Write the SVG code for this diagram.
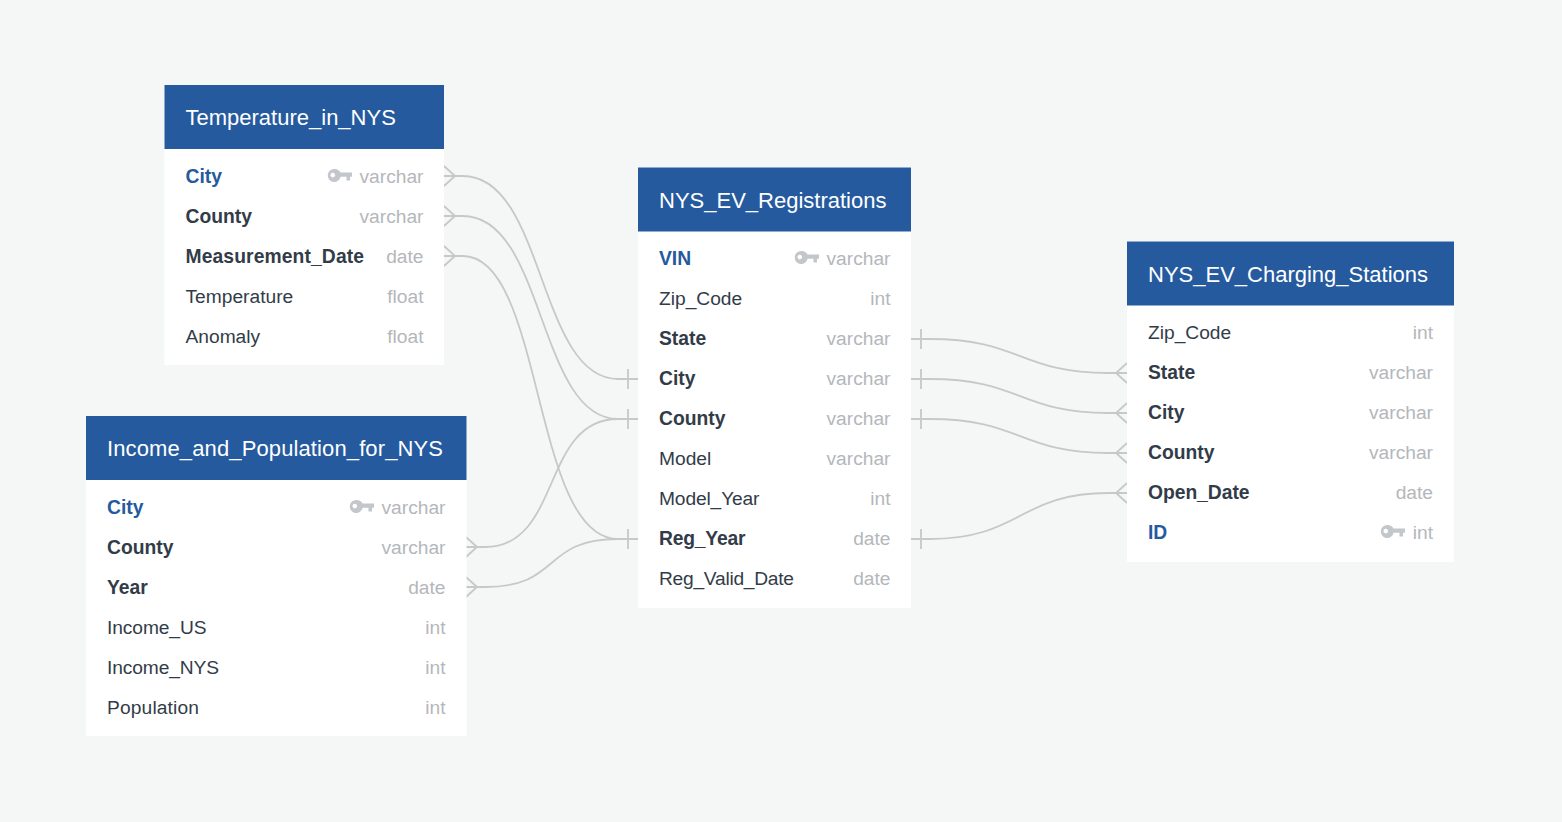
<svg xmlns="http://www.w3.org/2000/svg" width="1562" height="822" viewBox="0 0 1562 822">
<style>
text{font-family:"Liberation Sans",Arial,sans-serif;font-size:19.2px;fill:#323c48}
.h{font-size:22px;fill:#fff}
.b{font-weight:700;font-size:19.3px}
.k{font-weight:700;font-size:19.3px;fill:#255a9e}
.t{fill:#b4b7bb;text-anchor:end}
.hd{fill:#255a9e}
.bd{fill:#fff}
.ln{fill:none;stroke:#c6c8c9;stroke-width:1.8}
</style>
<defs>
<path id="key" fill="#c3c6ca" fill-rule="evenodd" d="M6.500 0a6.500 6.500 0 0 1 6 3.500H24V7.800H22V11.500H18.500V7.800H12.600A6.500 6.500 0 1 1 6.500 0ZM4.800 3.800a2.300 2.300 0 1 0 .01 0Z"/>
<path id="cf" class="ln" d="M0 -10L11 0L0 10M0 0H11"/>
<path id="cfr" class="ln" d="M0 -10L-11 0L0 10M0 0H-11"/>
</defs>
<rect width="1562" height="822" fill="#f5f7f7"/>
<g id="c">
<path class="ln" d="M444 176H463C545 176 538 379 618 379H638M628 369V389"/>
<path class="ln" d="M444 216H463C545 216 538 419 618 419H638M628 409V429"/>
<path class="ln" d="M444 256H463C544 256 532 539 618 539H638M628 529V549"/>
<path class="ln" d="M466 547H485C562 547 541 419 618 419H638"/>
<path class="ln" d="M466 587H485C562 587 541 539 618 539H638"/>
<path class="ln" d="M911 339H930C1020 339 1020 373 1108 373H1127M921 329V349"/>
<path class="ln" d="M911 379H930C1020 379 1020 413 1108 413H1127M921 369V389"/>
<path class="ln" d="M911 419H930C1020 419 1020 453 1108 453H1127M921 409V429"/>
<path class="ln" d="M911 539H930C1020 539 1020 493 1108 493H1127M921 529V549"/>
<use href="#cf" x="444" y="176"/><use href="#cf" x="444" y="216"/><use href="#cf" x="444" y="256"/>
<use href="#cf" x="466" y="547"/><use href="#cf" x="466" y="587"/>
<use href="#cfr" x="1127" y="373"/><use href="#cfr" x="1127" y="413"/><use href="#cfr" x="1127" y="453"/><use href="#cfr" x="1127" y="493"/>
</g>
<g id="temperature">
<rect class="bd" x="164.500" y="85" width="279.500" height="280"/><rect class="hd" x="164.500" y="85" width="279.500" height="64"/>
<text class="h" x="185.500" y="125">Temperature_in_NYS</text>
<text class="k" x="185.500" y="183">City</text><use href="#key" x="328" y="169"/><text class="t" x="423.500" y="183">varchar</text>
<text class="b" x="185.500" y="223">County</text><text class="t" x="423.500" y="223">varchar</text>
<text class="b" x="185.500" y="263" textLength="178.500">Measurement_Date</text><text class="t" x="423.500" y="263">date</text>
<text x="185.500" y="303">Temperature</text><text class="t" x="423.500" y="303">float</text>
<text x="185.500" y="343">Anomaly</text><text class="t" x="423.500" y="343">float</text>
</g>
<g id="income">
<rect class="bd" x="86" y="416" width="380.500" height="320"/><rect class="hd" x="86" y="416" width="380.500" height="64"/>
<text class="h" x="107" y="456" textLength="336">Income_and_Population_for_NYS</text>
<text class="k" x="107" y="514">City</text><use href="#key" x="350" y="500"/><text class="t" x="445.500" y="514">varchar</text>
<text class="b" x="107" y="554">County</text><text class="t" x="445.500" y="554">varchar</text>
<text class="b" x="107" y="594">Year</text><text class="t" x="445.500" y="594">date</text>
<text x="107" y="634" textLength="99.500">Income_US</text><text class="t" x="445.500" y="634">int</text>
<text x="107" y="674" textLength="112">Income_NYS</text><text class="t" x="445.500" y="674">int</text>
<text x="107" y="714" textLength="92">Population</text><text class="t" x="445.500" y="714">int</text>
</g>
<g id="registrations">
<rect class="bd" x="638" y="167.500" width="273" height="440.500"/><rect class="hd" x="638" y="167.500" width="273" height="64"/>
<text class="h" x="659" y="208">NYS_EV_Registrations</text>
<text class="k" x="659" y="265">VIN</text><use href="#key" x="795" y="251"/><text class="t" x="890.500" y="265">varchar</text>
<text x="659" y="305">Zip_Code</text><text class="t" x="890.500" y="305">int</text>
<text class="b" x="659" y="345">State</text><text class="t" x="890.500" y="345">varchar</text>
<text class="b" x="659" y="385">City</text><text class="t" x="890.500" y="385">varchar</text>
<text class="b" x="659" y="425">County</text><text class="t" x="890.500" y="425">varchar</text>
<text x="659" y="465">Model</text><text class="t" x="890.500" y="465">varchar</text>
<text x="659" y="505" textLength="100.500">Model_Year</text><text class="t" x="890.500" y="505">int</text>
<text class="b" x="659" y="545" textLength="86.500">Reg_Year</text><text class="t" x="890.500" y="545">date</text>
<text x="659" y="585" textLength="135">Reg_Valid_Date</text><text class="t" x="890.500" y="585">date</text>
</g>
<g id="charging">
<rect class="bd" x="1127" y="241.500" width="327" height="320.500"/><rect class="hd" x="1127" y="241.500" width="327" height="64"/>
<text class="h" x="1148" y="282">NYS_EV_Charging_Stations</text>
<text x="1148" y="339">Zip_Code</text><text class="t" x="1433" y="339">int</text>
<text class="b" x="1148" y="379">State</text><text class="t" x="1433" y="379">varchar</text>
<text class="b" x="1148" y="419">City</text><text class="t" x="1433" y="419">varchar</text>
<text class="b" x="1148" y="459">County</text><text class="t" x="1433" y="459">varchar</text>
<text class="b" x="1148" y="499" textLength="101.500">Open_Date</text><text class="t" x="1433" y="499">date</text>
<text class="k" x="1148" y="539">ID</text><use href="#key" x="1381" y="525"/><text class="t" x="1433" y="539">int</text>
</g>
</svg>
